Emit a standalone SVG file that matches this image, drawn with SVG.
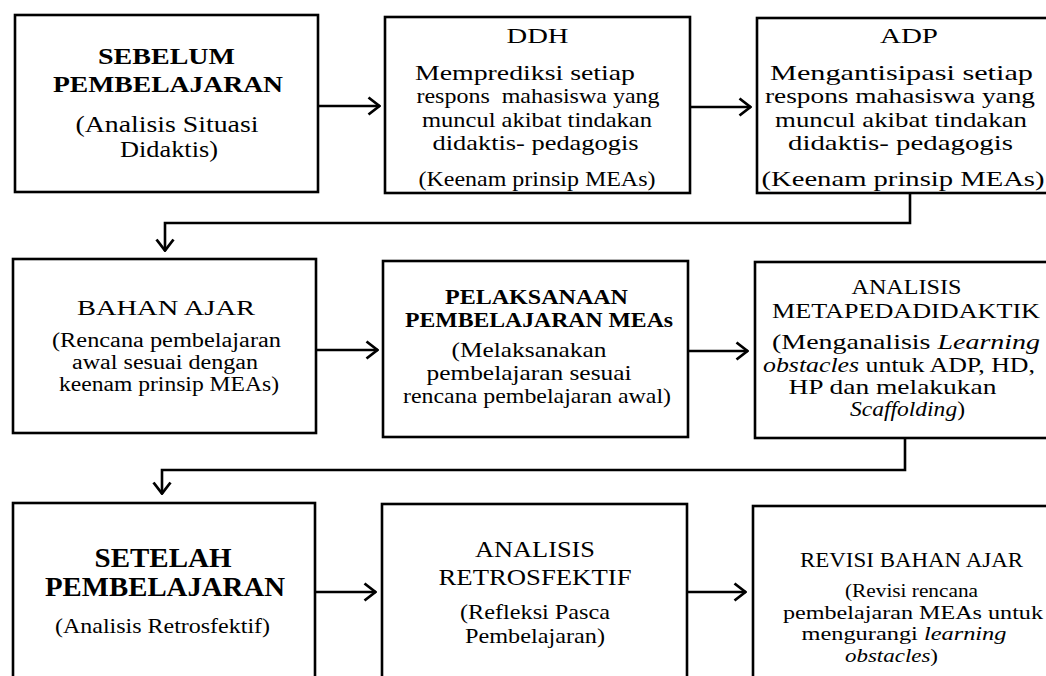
<svg xmlns="http://www.w3.org/2000/svg" width="1046" height="676" viewBox="0 0 1046 676">
<style>
.box{fill:#fff;stroke:#000;stroke-width:2.6}
text{font-family:"Liberation Serif","Times New Roman",serif;fill:#000;text-anchor:middle}
.b{font-weight:bold}
.i{font-style:italic}
.con{fill:none;stroke:#000;stroke-width:2.6}
</style>
<defs>
<marker id="ah" viewBox="0 0 14 20" refX="13" refY="10" markerWidth="14" markerHeight="20" markerUnits="userSpaceOnUse" orient="auto">
<path d="M1.5,1.5 L12.5,10 L1.5,18.5" fill="none" stroke="#000" stroke-width="2.8"/>
</marker>
</defs>
<rect width="1046" height="676" fill="#fff"/>

<g id="connectors">
<line class="con" x1="318" y1="106" x2="380" y2="106" marker-end="url(#ah)"/>
<line class="con" x1="690" y1="107" x2="751" y2="107" marker-end="url(#ah)"/>
<path class="con" d="M910,193 V223 H165 V251" marker-end="url(#ah)"/>
<line class="con" x1="316" y1="350" x2="378" y2="350" marker-end="url(#ah)"/>
<line class="con" x1="688" y1="351" x2="748" y2="351" marker-end="url(#ah)"/>
<path class="con" d="M905,438 V470 H162 V494" marker-end="url(#ah)"/>
<line class="con" x1="315" y1="592" x2="376" y2="592" marker-end="url(#ah)"/>
<line class="con" x1="687" y1="592" x2="746" y2="592" marker-end="url(#ah)"/>
</g>

<g id="sebelum">
<rect class="box" x="15" y="15" width="303" height="177"/>
<text class="b" font-size="24" x="166.5" y="64" textLength="137" lengthAdjust="spacingAndGlyphs">SEBELUM</text>
<text class="b" font-size="24" x="168" y="92" textLength="230" lengthAdjust="spacingAndGlyphs">PEMBELAJARAN</text>
<text font-size="24" x="167" y="132" textLength="183" lengthAdjust="spacingAndGlyphs">(Analisis Situasi</text>
<text font-size="24" x="169" y="157" textLength="98" lengthAdjust="spacingAndGlyphs">Didaktis)</text>
</g>

<g id="ddh">
<rect class="box" x="385" y="17" width="305" height="176"/>
<text font-size="21" x="537.5" y="43" textLength="62" lengthAdjust="spacingAndGlyphs">DDH</text>
<text font-size="21" x="525" y="80" textLength="220" lengthAdjust="spacingAndGlyphs">Memprediksi setiap</text>
<text font-size="21" x="538" y="103" textLength="243" lengthAdjust="spacingAndGlyphs" xml:space="preserve">respons  mahasiswa yang</text>
<text font-size="21" x="537" y="127" textLength="230" lengthAdjust="spacingAndGlyphs">muncul akibat tindakan</text>
<text font-size="21" x="535.5" y="150" textLength="206" lengthAdjust="spacingAndGlyphs">didaktis- pedagogis</text>
<text font-size="21" x="537" y="186" textLength="237" lengthAdjust="spacingAndGlyphs">(Keenam prinsip MEAs)</text>
</g>

<g id="adp">
<rect class="box" x="757" y="18" width="310" height="175"/>
<text font-size="21" x="909" y="43" textLength="58" lengthAdjust="spacingAndGlyphs">ADP</text>
<text font-size="21" x="901.5" y="80" textLength="263" lengthAdjust="spacingAndGlyphs">Mengantisipasi setiap</text>
<text font-size="21" x="900" y="103" textLength="270" lengthAdjust="spacingAndGlyphs">respons mahasiswa yang</text>
<text font-size="21" x="901" y="127" textLength="252" lengthAdjust="spacingAndGlyphs">muncul akibat tindakan</text>
<text font-size="21" x="900.5" y="150" textLength="225" lengthAdjust="spacingAndGlyphs">didaktis- pedagogis</text>
<text font-size="21" x="903" y="186" textLength="283" lengthAdjust="spacingAndGlyphs">(Keenam prinsip MEAs)</text>
</g>

<g id="bahan-ajar">
<rect class="box" x="13" y="259" width="303" height="174"/>
<text font-size="22" x="166" y="315" textLength="178" lengthAdjust="spacingAndGlyphs">BAHAN AJAR</text>
<text font-size="20" x="166.5" y="347" textLength="229" lengthAdjust="spacingAndGlyphs">(Rencana pembelajaran</text>
<text font-size="20" x="165" y="369" textLength="186" lengthAdjust="spacingAndGlyphs">awal sesuai dengan</text>
<text font-size="20" x="169" y="391" textLength="220" lengthAdjust="spacingAndGlyphs">keenam prinsip MEAs)</text>
</g>

<g id="pelaksanaan">
<rect class="box" x="383" y="261" width="305" height="176"/>
<text class="b" font-size="20" x="536.5" y="304" textLength="183" lengthAdjust="spacingAndGlyphs">PELAKSANAAN</text>
<text class="b" font-size="20" x="539" y="327" textLength="268" lengthAdjust="spacingAndGlyphs">PEMBELAJARAN MEAs</text>
<text font-size="21" x="529" y="357" textLength="155" lengthAdjust="spacingAndGlyphs">(Melaksanakan</text>
<text font-size="21" x="529" y="380" textLength="205" lengthAdjust="spacingAndGlyphs">pembelajaran sesuai</text>
<text font-size="21" x="537" y="403" textLength="268" lengthAdjust="spacingAndGlyphs">rencana pembelajaran awal)</text>
</g>

<g id="analisis-metapedadidaktik">
<rect class="box" x="755" y="262" width="310" height="176"/>
<text font-size="20" x="906.5" y="294" textLength="110" lengthAdjust="spacingAndGlyphs">ANALISIS</text>
<text font-size="20" x="906" y="318" textLength="268" lengthAdjust="spacingAndGlyphs">METAPEDADIDAKTIK</text>
<text font-size="21" x="906" y="349" textLength="268" lengthAdjust="spacingAndGlyphs">(Menganalisis <tspan class="i">Learning</tspan></text>
<text font-size="21" x="899" y="372" textLength="272" lengthAdjust="spacingAndGlyphs"><tspan class="i">obstacles</tspan> untuk ADP, HD,</text>
<text font-size="21" x="892.5" y="394" textLength="208" lengthAdjust="spacingAndGlyphs">HP dan melakukan</text>
<text font-size="21" x="907.5" y="416" textLength="115" lengthAdjust="spacingAndGlyphs"><tspan class="i">Scaffolding</tspan>)</text>
</g>

<g id="setelah">
<rect class="box" x="13" y="503" width="302" height="200"/>
<text class="b" font-size="27" x="163" y="567" textLength="137" lengthAdjust="spacingAndGlyphs">SETELAH</text>
<text class="b" font-size="27" x="165" y="596" textLength="240" lengthAdjust="spacingAndGlyphs">PEMBELAJARAN</text>
<text font-size="21" x="162.5" y="633" textLength="215" lengthAdjust="spacingAndGlyphs">(Analisis Retrosfektif)</text>
</g>

<g id="analisis-retrosfektif">
<rect class="box" x="382" y="504" width="305" height="200"/>
<text font-size="23" x="535" y="557" textLength="120" lengthAdjust="spacingAndGlyphs">ANALISIS</text>
<text font-size="23" x="535" y="585" textLength="193" lengthAdjust="spacingAndGlyphs">RETROSFEKTIF</text>
<text font-size="22" x="535" y="619" textLength="150" lengthAdjust="spacingAndGlyphs">(Refleksi Pasca</text>
<text font-size="22" x="535" y="643" textLength="140" lengthAdjust="spacingAndGlyphs">Pembelajaran)</text>
</g>

<g id="revisi-bahan-ajar">
<rect class="box" x="753" y="506" width="312" height="200"/>
<text font-size="20" x="911.5" y="567" textLength="223" lengthAdjust="spacingAndGlyphs">REVISI BAHAN AJAR</text>
<text font-size="19" x="911.5" y="597" textLength="133" lengthAdjust="spacingAndGlyphs">(Revisi rencana</text>
<text font-size="19" x="913" y="618.5" textLength="260" lengthAdjust="spacingAndGlyphs">pembelajaran MEAs untuk</text>
<text font-size="19" x="904" y="640" textLength="205" lengthAdjust="spacingAndGlyphs">mengurangi <tspan class="i">learning</tspan></text>
<text font-size="19" x="891.5" y="661.5" textLength="93" lengthAdjust="spacingAndGlyphs"><tspan class="i">obstacles</tspan>)</text>
</g>
</svg>
